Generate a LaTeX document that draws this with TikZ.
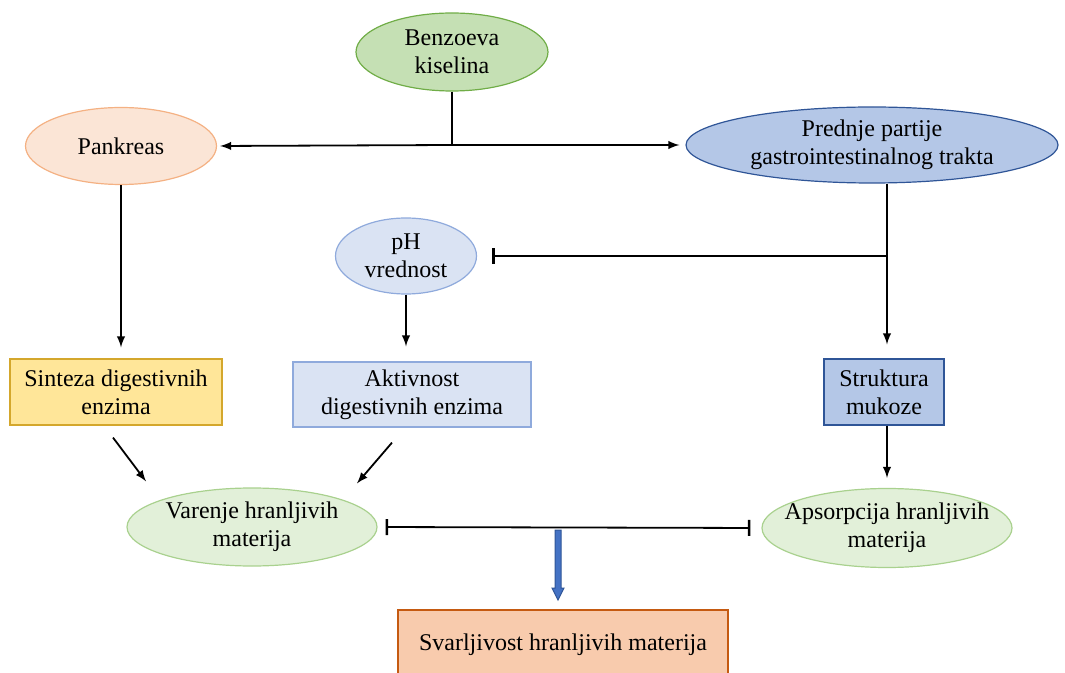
\documentclass[tikz,border=0pt]{standalone}
\usepackage{fontspec}
\setmainfont{Liberation Serif}
\usetikzlibrary{arrows, arrows.meta, shapes, positioning, calc}
\definecolor{benzfill}{HTML}{C5E0B4}
\definecolor{benzline}{HTML}{70AD47}
\definecolor{pankfill}{HTML}{FBE5D6}
\definecolor{pankline}{HTML}{F4B183}
\definecolor{gifill}{HTML}{B4C7E7}
\definecolor{giline}{HTML}{2F5597}
\definecolor{phfill}{HTML}{DAE3F3}
\definecolor{phline}{HTML}{8FAADC}
\definecolor{sintfill}{HTML}{FFE699}
\definecolor{sintline}{HTML}{D4A72C}
\definecolor{varfill}{HTML}{E2F0D9}
\definecolor{varline}{HTML}{A9D18E}
\definecolor{svarfill}{HTML}{F8CBAD}
\definecolor{svarline}{HTML}{C55A11}
\definecolor{arrowblue}{HTML}{4472C4}

\begin{document}
\begin{tikzpicture}[x=0.5pt,y=-0.5pt,>=latex,
  txt/.style={font=\fontsize{12}{14}\selectfont, align=center, inner sep=0pt},
  oval/.style={txt, ellipse, inner xsep=-8pt, line width=0.6pt},
  box/.style={txt, rectangle, line width=0.6pt},
  conn/.style={line width=0.9pt},
  inhib/.style={conn, -{Bar[width=8pt,line width=1.3pt]}}]
\useasboundingbox (0,0) rectangle (1065,673);

\node[oval, fill=benzfill, draw=benzline, minimum width=96pt, minimum height=39pt] (benz) at (452,52) {Benzoeva\\kiselina};
\node[oval, fill=pankfill, draw=pankline, minimum width=95.5pt, minimum height=38.5pt] (pank) at (121,146) {Pankreas};
\node[oval, fill=gifill, draw=giline, minimum width=186pt, minimum height=38pt] (gi) at (872,145) {Prednje partije\\gastrointestinalnog trakta};
\node[oval, fill=phfill, draw=phline, minimum width=70.5pt, minimum height=38pt] (ph) at (406,256) {pH\\vrednost};
\node[box, fill=sintfill, draw=sintline, minimum width=106pt, minimum height=33pt] (sint) at (116,392) {Sinteza digestivnih\\enzima};
\node[box, fill=phfill, draw=phline, minimum width=119pt, minimum height=32.5pt] (akt) at (412,394.5) {Aktivnost\\digestivnih enzima};
\node[box, fill=gifill, draw=giline, minimum width=60pt, minimum height=33pt] (struk) at (884,392) {Struktura\\mukoze};
\node[oval, fill=varfill, draw=varline, minimum width=125pt, minimum height=39pt] (var) at (252,527) {Varenje hranljivih\\materija};
\node[oval, fill=varfill, draw=varline, minimum width=125pt, minimum height=39.5pt] (aps) at (887,528) {Apsorpcija hranljivih\\materija};
\node[box, fill=svarfill, draw=svarline, minimum width=165pt, minimum height=35pt] (svar) at (563,645) {Svarljivost hranljivih materija};

% connectors
\coordinate (jtop) at (452,145);
\coordinate (jgi) at (887,256);
\coordinate (jbot) at (558,530);
\draw[conn,line width=1.4pt] (benz.south) -- (jtop);
\draw[conn,->,shorten >=1.5pt] (jtop) -- (pank.east);
\draw[conn,->,shorten >=3pt] (jtop) -- (gi.west);
\draw[conn] (gi.south -| jgi) -- (jgi);
\draw[conn,->,shorten >=7pt] (jgi) -- (jgi |- struk.north);
\draw[inhib,shorten >=7.5pt] (jgi) -- (ph.east);
\draw[conn,->,shorten >=5.5pt] (pank.south) -- (pank.south |- sint.north);
\draw[conn,->,shorten >=7.5pt] (ph.south) -- (ph.south |- akt.north);
\draw[conn,->,shorten >=5pt] (struk.south -| aps.north) -- (aps.north);
\draw[conn,->] ($(sint.south)+(-3,12)$) -- ($(var.north)+(-106,-6)$);
\draw[conn,->] ($(akt.south)+(-20,15)$) -- ($(var.north)+(105,-4)$);
\draw[conn,{Bar[width=8pt,line width=1.3pt]}-{Bar[width=8pt,line width=1.3pt]},shorten <=4pt,shorten >=5.5pt] (var.east) -- (aps.west);

% fat arrow down to the result
\draw[fill=arrowblue, draw=giline, line width=0.5pt] ($(jbot)+(-3,0)$) -- ++(0,58) -- ++(-3,0) -- ($(jbot)+(0,70)$) -- ++(6,-12) -- ++(-3,0) -- ($(jbot)+(3,0)$) -- cycle;
\end{tikzpicture}
\end{document}
